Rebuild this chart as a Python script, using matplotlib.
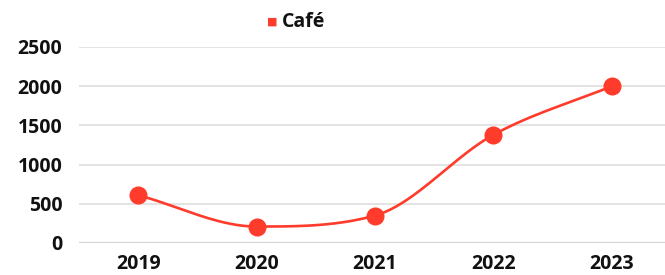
import numpy as np
import matplotlib.pyplot as plt

years = ['2019', '2020', '2021', '2022', '2023']
cafe = [610, 210, 350, 1380, 2000]
y_ticks = [0, 500, 1000, 1500, 2000, 2500]

line_color = '#ff3b2b'
plt.rcParams['font.family'] = ['Open Sans', 'DejaVu Sans']
plt.rcParams['font.weight'] = 'bold'


def monotone_curve(x, y, steps=40):
    # monotone cubic (Fritsch-Carlson) hermite curve through the points
    x = np.asarray(x, float)
    y = np.asarray(y, float)
    n = len(x)
    h = np.diff(x)
    d = np.diff(y) / h
    m = np.zeros(n)
    m[0], m[-1] = d[0], d[-1]
    for i in range(1, n - 1):
        m[i] = 0 if d[i - 1] * d[i] <= 0 else (d[i - 1] + d[i]) / 2
    for i in range(n - 1):
        if d[i] == 0:
            m[i] = m[i + 1] = 0
            continue
        a, b = m[i] / d[i], m[i + 1] / d[i]
        s = a * a + b * b
        if s > 9:
            t = 3 / np.sqrt(s)
            m[i], m[i + 1] = t * a * d[i], t * b * d[i]
    out_x, out_y = [], []
    for i in range(n - 1):
        t = np.linspace(0, 1, steps)
        h00 = 2 * t ** 3 - 3 * t ** 2 + 1
        h10 = t ** 3 - 2 * t ** 2 + t
        h01 = -2 * t ** 3 + 3 * t ** 2
        h11 = t ** 3 - t ** 2
        out_x.extend(x[i] + t * h[i])
        out_y.extend(h00 * y[i] + h10 * h[i] * m[i] + h01 * y[i + 1] + h11 * h[i] * m[i + 1])
    return np.array(out_x), np.array(out_y)


fig = plt.figure(figsize=(6.65, 2.75), dpi=100)
ax = fig.add_axes([79 / 665, (275 - 243) / 275, 592 / 665, 196 / 275])

xs = np.arange(len(years))
cx, cy = monotone_curve(xs, cafe)
ax.plot(cx, cy, color=line_color, lw=1.9, zorder=3)
ax.plot(xs, cafe, 'o', color=line_color, ms=12, zorder=4)

ax.set_xlim(-0.5, len(years) - 0.5)
ax.set_ylim(0, 2500)
ax.set_yticks(y_ticks)
ax.set_xticks(xs)
ax.set_xticklabels(years)
ax.tick_params(length=0, labelsize=14, colors='#111111', pad=8)
ax.tick_params(axis='y', pad=12)
for lbl in ax.get_xticklabels() + ax.get_yticklabels():
    lbl.set_fontweight('bold')
ax.grid(axis='y', color='#e3e3e3', lw=1.4)
ax.set_axisbelow(True)
for s in ax.spines.values():
    s.set_visible(False)
ax.axhline(0, color='#d4d4d4', lw=1.6, zorder=1)

fig.text(272 / 665, 1 - 22 / 275, '\u25a0', color=line_color, fontsize=8, ha='center', va='center')
fig.text(282 / 665, 1 - 22 / 275, 'Café', color='#111111', fontsize=14,
         fontweight='bold', ha='left', va='center')

fig.savefig('out.png', dpi=100)
